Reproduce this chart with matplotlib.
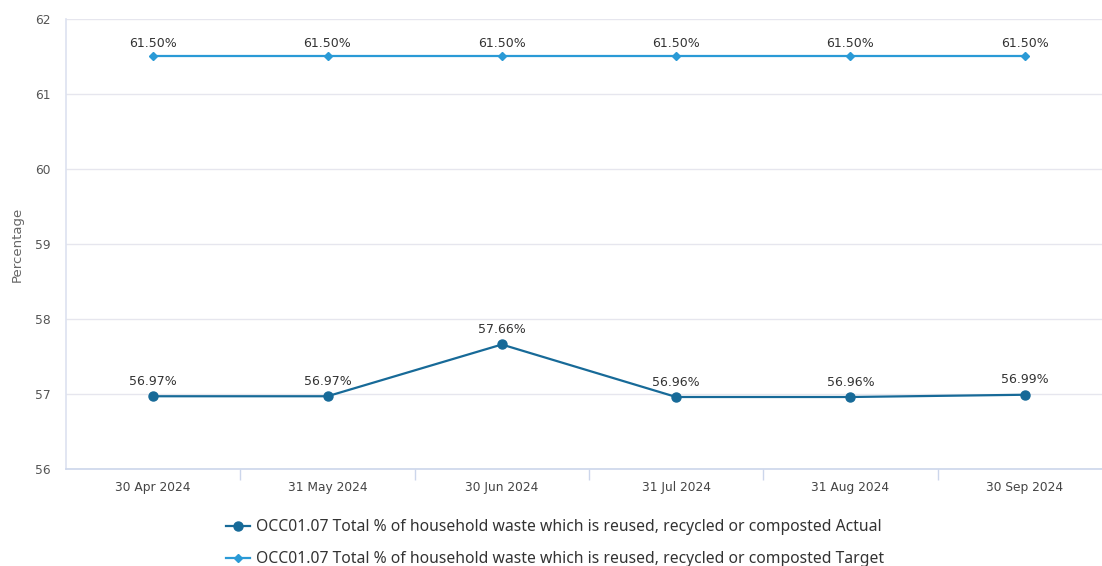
import matplotlib
matplotlib.use("Agg")
import matplotlib.pyplot as plt

plt.rcParams["font.family"] = ["DejaVu Sans"]

# data
dates = ["30 Apr 2024", "31 May 2024", "30 Jun 2024", "31 Jul 2024", "31 Aug 2024", "30 Sep 2024"]
actual = [56.97, 56.97, 57.66, 56.96, 56.96, 56.99]
target = [61.50, 61.50, 61.50, 61.50, 61.50, 61.50]
name_actual = "OCC01.07 Total % of household waste which is reused, recycled or composted Actual"
name_target = "OCC01.07 Total % of household waste which is reused, recycled or composted Target"
yticks = [56, 57, 58, 59, 60, 61, 62]

c_actual = "#176a98"
c_target = "#2a9ad6"

fig = plt.figure(figsize=(11.02, 5.66), dpi=100)
W, H = 1102, 566
ax = fig.add_axes([66 / W, 1 - 469 / H, (1112 - 66) / W, (469 - 19) / H])

x = list(range(len(dates)))
ax.plot(x, actual, color=c_actual, lw=1.6, marker="o", ms=6.5, zorder=3,
        label=name_actual)
ax.plot(x, target, color=c_target, lw=1.6, marker="D", ms=4.2, zorder=3,
        label=name_target)

for xi, v in zip(x, actual):
    ax.annotate(f"{v:.2f}%", (xi, v), xytext=(0, 6), textcoords="offset points",
                ha="center", va="bottom", fontsize=9, color="#333333")
for xi, v in zip(x, target):
    ax.annotate(f"{v:.2f}%", (xi, v), xytext=(0, 4.5), textcoords="offset points",
                ha="center", va="bottom", fontsize=9, color="#333333")

ax.set_xlim(-0.5, len(dates) - 0.5)
ax.set_ylim(56, 62)
ax.set_yticks(yticks)
ax.set_xticks(x)
ax.set_xticklabels(dates)
ax.set_xticks([i + 0.5 for i in range(len(dates) - 1)], minor=True)
ax.grid(axis="y", color="#e6e6ee", lw=1)
ax.set_axisbelow(True)

for s in ["top", "right"]:
    ax.spines[s].set_visible(False)
ax.spines["left"].set_color("#dde2f0")
ax.spines["bottom"].set_color("#ccd6eb")
ax.spines["left"].set_linewidth(1.2)
ax.spines["bottom"].set_linewidth(1.2)

ax.tick_params(axis="y", length=0, labelsize=8.8, labelcolor="#555555", pad=11)
ax.tick_params(axis="x", which="major", length=0, labelsize=8.8,
               labelcolor="#444444", pad=9)
ax.tick_params(axis="x", which="minor", length=8, color="#ccd6eb", width=1)

ax.set_ylabel("Percentage", fontsize=9.5, color="#666666", labelpad=8)

fig.legend(loc="upper center", bbox_to_anchor=(555 / W, 1 - 505 / H),
           frameon=False, ncol=1, labelcolor="#333333",
           handlelength=1.5, handletextpad=0.4, labelspacing=1.03,
           prop={"family": "Noto Sans", "size": 11.3})

fig.savefig("out.png", dpi=100)
